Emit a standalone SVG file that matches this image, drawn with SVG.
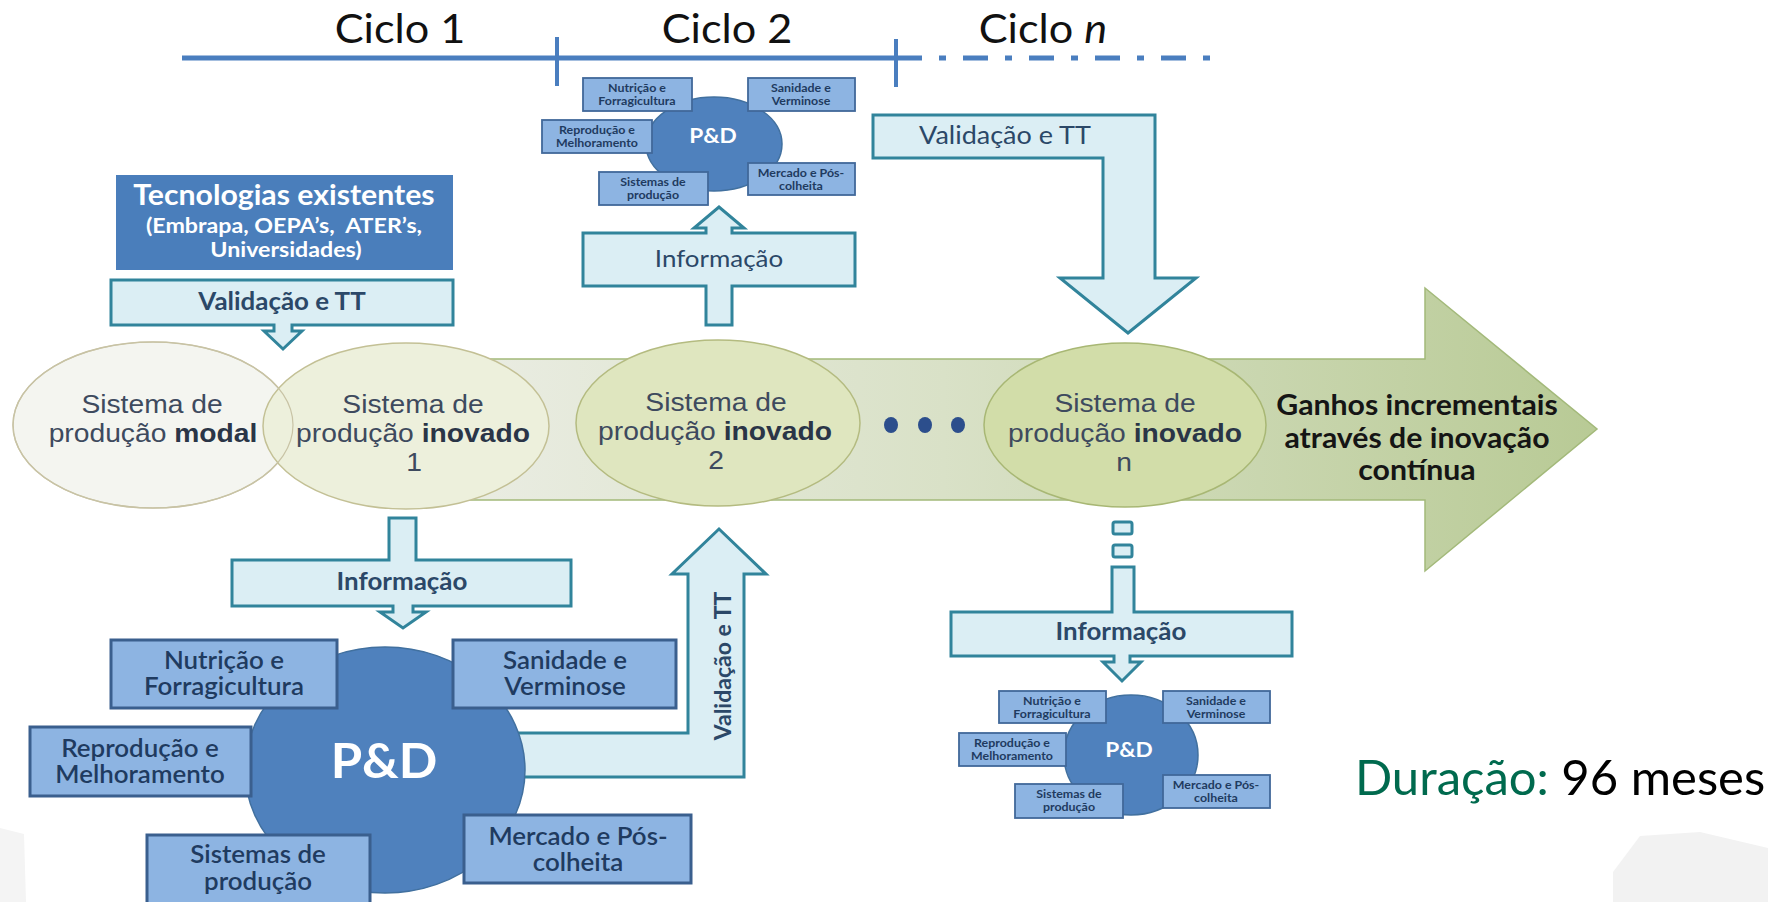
<svg xmlns="http://www.w3.org/2000/svg" width="1768" height="902" viewBox="0 0 1768 902">
<defs>
<style>
.cal{font-family:Lato,Carlito,"Liberation Sans",sans-serif}
.ari{font-family:"Liberation Sans",Arial,sans-serif}
.sx{transform-box:fill-box;transform-origin:center;transform:scaleX(1.08)}
.sa{transform-box:fill-box;transform-origin:center;transform:scaleX(1.13)}
.callout{fill:#dbeef4;stroke:#31849b;stroke-width:3}
.ctext{fill:#2b4868;text-anchor:middle}
.box{fill:#8db4e2;stroke:#3a5f8e;stroke-width:3}
.sbox{fill:#8db4e2;stroke:#41689a;stroke-width:1.8}
.btext{fill:#1f3b60;text-anchor:middle;font-size:24px;font-weight:600}
.stext{fill:#1f3b60;text-anchor:middle;font-size:11.5px;font-weight:bold}
.pd{fill:#4f81bd;stroke:#41709f;stroke-width:1.5}
.pdt{fill:#ffffff;text-anchor:middle;font-weight:bold}
.etext{fill:#3e4a5e;text-anchor:middle;font-size:25px}
.tl{stroke:#4a7ebf;fill:none}
</style>
<linearGradient id="gArrow" gradientUnits="userSpaceOnUse" x1="406" y1="0" x2="1600" y2="0">
<stop offset="0" stop-color="#eceee6"/>
<stop offset="0.45" stop-color="#d9e1c7"/>
<stop offset="1" stop-color="#b8ca95"/>
</linearGradient>
</defs>
<rect x="0" y="0" width="1768" height="902" fill="#ffffff"/>
<path d="M1613,872 L1640,836 L1700,832 L1768,848 L1768,902 L1613,902 Z" fill="#f2f2f2"/>
<path d="M0,828 L24,834 L26,902 L0,902 Z" fill="#f4f4f4"/>

<g id="timeline">
<line class="tl" x1="182" y1="58" x2="897" y2="58" stroke-width="5"/>
<line class="tl" x1="557" y1="37" x2="557" y2="86" stroke-width="4"/>
<line class="tl" x1="896" y1="39" x2="896" y2="87" stroke-width="4"/>
<line class="tl" x1="897" y1="58" x2="1212" y2="58" stroke-width="5" stroke-dasharray="25 17 7 17"/>
<text class="cal sx" x="400" y="43" font-size="40" text-anchor="middle" fill="#111">Ciclo 1</text>
<text class="cal sx" x="727" y="43" font-size="40" text-anchor="middle" fill="#111">Ciclo 2</text>
<text class="cal sx" x="1043" y="43" font-size="40" text-anchor="middle" fill="#111">Ciclo <tspan font-style="italic">n</tspan></text>
</g>

<g id="main-arrow">
<path d="M406,359 H1425 V288 L1597,429 L1425,571 V500 H406 Z" fill="url(#gArrow)" stroke="#a3b97a" stroke-width="1.5"/>
<text class="cal sx" x="1417" y="415" font-size="28" font-weight="bold" text-anchor="middle" fill="#151515">Ganhos incrementais</text>
<text class="cal sx" x="1417" y="448" font-size="28" font-weight="bold" text-anchor="middle" fill="#151515">através de inovação</text>
<text class="cal sx" x="1417" y="480" font-size="28" font-weight="bold" text-anchor="middle" fill="#151515">contínua</text>
</g>

<g id="tecnologias">
<rect x="116" y="175" width="337" height="95" fill="#4a7ebb"/>
<text class="cal sx" x="284" y="205" font-size="28" font-weight="bold" text-anchor="middle" fill="#ffffff">Tecnologias existentes</text>
<text class="cal sx" x="284" y="233" font-size="21.5" font-weight="bold" text-anchor="middle" fill="#ffffff" xml:space="preserve">(Embrapa, OEPA&#8217;s,  ATER&#8217;s,</text>
<text class="cal sx" x="286" y="257" font-size="21.5" font-weight="bold" text-anchor="middle" fill="#ffffff">Universidades)</text>
</g>

<g id="sistema-modal">
<ellipse cx="153" cy="425" rx="140" ry="83" fill="#f4f5f0" stroke="#c8c3a5" stroke-width="1.5"/>
</g>
<g id="sistema-inovado-1">
<ellipse cx="406" cy="426" rx="143" ry="83" fill="#edf0dc" stroke="#c3c095" stroke-width="1.5"/>
<ellipse cx="153" cy="425" rx="140" ry="83" fill="none" stroke="#c8c3a5" stroke-width="1.2"/>
<text class="ari sa etext" x="413" y="413">Sistema de</text>
<text class="ari sa etext" x="413" y="442">produção <tspan font-weight="bold" fill="#2a3547">inovado</tspan></text>
<text class="ari sa etext" x="414" y="471">1</text>
</g>
<g id="sistema-modal-text">
<text class="ari sa etext" x="152" y="413">Sistema de</text>
<text class="ari sa etext" x="153" y="442">produção <tspan font-weight="bold" fill="#2a3547">modal</tspan></text>
</g>
<g id="sistema-inovado-2">
<ellipse cx="718" cy="423" rx="142" ry="83" fill="#dfe6bf" stroke="#b4bb80" stroke-width="1.5"/>
<text class="ari sa etext" x="716" y="411">Sistema de</text>
<text class="ari sa etext" x="715" y="440">produção <tspan font-weight="bold" fill="#2a3547">inovado</tspan></text>
<text class="ari sa etext" x="716" y="469">2</text>
</g>
<g id="reticencias">
<ellipse cx="891" cy="425" rx="7" ry="8" fill="#2c4e8c"/>
<ellipse cx="925" cy="425" rx="7" ry="8" fill="#2c4e8c"/>
<ellipse cx="958" cy="425" rx="7" ry="8" fill="#2c4e8c"/>
</g>
<g id="sistema-inovado-n">
<ellipse cx="1125" cy="425" rx="141" ry="82" fill="#d2dda9" stroke="#a8b774" stroke-width="1.5"/>
<text class="ari sa etext" x="1125" y="412">Sistema de</text>
<text class="ari sa etext" x="1125" y="442">produção <tspan font-weight="bold" fill="#2a3547">inovado</tspan></text>
<text class="ari sa etext" x="1124" y="471">n</text>
</g>

<g id="connectors">
<g id="validacao-1">
<path class="callout" d="M111,280 H453 V325 H292 V331 H302 L283,349 L264,331 H274 V325 H111 Z"/>
<text class="cal sx ctext" x="282" y="310" font-size="24" font-weight="bold">Validação e TT</text>
</g>
<g id="informacao-1">
<path class="callout" d="M389,518 H416 V560 H571 V606 H413 V612 H426 L403,628 L380,612 H393 V606 H232 V560 H389 Z"/>
<text class="cal sx ctext" x="402" y="590" font-size="24" font-weight="bold">Informação</text>
</g>
<g id="validacao-2">
<path class="callout" d="M500,733 H688 V574 H672 L719,529 L766,574 H744 V777 H500 Z"/>
<text class="cal ctext" transform="translate(731,666) rotate(-90)" font-size="23" font-weight="bold">Validação e TT</text>
</g>
<g id="informacao-2">
<path class="callout" d="M706,325 V286 H583 V233 H706 V228 H694 L719,207 L744,228 H732 V233 H855 V286 H732 V325 Z"/>
<text class="cal sx ctext" x="719" y="267" font-size="24">Informação</text>
</g>
<g id="validacao-n">
<path class="callout" d="M873,115 H1155 V278 H1196 L1128,333 L1060,278 H1103 V158 H873 Z"/>
<text class="cal sx ctext" x="1005" y="144" font-size="25">Validação e TT</text>
</g>
<g id="informacao-n">
<rect class="callout" x="1113" y="522" width="19" height="12" rx="2"/>
<rect class="callout" x="1113" y="545" width="19" height="12" rx="2"/>
<path class="callout" d="M1112,567 H1134 V612 H1292 V656 H1130 V662 H1141 L1122,681 L1103,662 H1114 V656 H951 V612 H1112 Z"/>
<text class="cal sx ctext" x="1121" y="640" font-size="24" font-weight="bold">Informação</text>
</g>
</g>

<g id="pd-ciclo1">
<ellipse class="pd" cx="385" cy="770" rx="140" ry="123"/>
<text class="cal sx pdt" x="384" y="778" font-size="47">P&amp;D</text>
<rect class="box" x="111" y="640" width="226" height="68"/>
<text class="cal sx btext" x="224" y="669">Nutrição e</text>
<text class="cal sx btext" x="224" y="695">Forragicultura</text>
<rect class="box" x="453" y="640" width="223" height="68"/>
<text class="cal sx btext" x="565" y="669">Sanidade e</text>
<text class="cal sx btext" x="565" y="695">Verminose</text>
<rect class="box" x="30" y="727" width="221" height="69"/>
<text class="cal sx btext" x="140" y="757">Reprodução e</text>
<text class="cal sx btext" x="140" y="783">Melhoramento</text>
<rect class="box" x="147" y="835" width="223" height="72"/>
<text class="cal sx btext" x="258" y="863">Sistemas de</text>
<text class="cal sx btext" x="258" y="890">produção</text>
<rect class="box" x="464" y="815" width="227" height="68"/>
<text class="cal sx btext" x="578" y="845">Mercado e Pós-</text>
<text class="cal sx btext" x="578" y="871">colheita</text>
</g>

<g id="pd-ciclo2">
<ellipse class="pd" cx="714" cy="144" rx="68" ry="47"/>
<text class="cal sx pdt" x="713" y="143" font-size="21">P&amp;D</text>
<rect class="sbox" x="583" y="78" width="109" height="33"/>
<text class="cal sx stext" x="637" y="92">Nutrição e</text>
<text class="cal sx stext" x="637" y="105">Forragicultura</text>
<rect class="sbox" x="748" y="78" width="107" height="33"/>
<text class="cal sx stext" x="801" y="92">Sanidade e</text>
<text class="cal sx stext" x="801" y="105">Verminose</text>
<rect class="sbox" x="542" y="120" width="110" height="33"/>
<text class="cal sx stext" x="597" y="134">Reprodução e</text>
<text class="cal sx stext" x="597" y="147">Melhoramento</text>
<rect class="sbox" x="599" y="172" width="109" height="33"/>
<text class="cal sx stext" x="653" y="186">Sistemas de</text>
<text class="cal sx stext" x="653" y="199">produção</text>
<rect class="sbox" x="748" y="163" width="107" height="32"/>
<text class="cal sx stext" x="801" y="177">Mercado e Pós-</text>
<text class="cal sx stext" x="801" y="190">colheita</text>
</g>

<g id="pd-ciclon">
<ellipse class="pd" cx="1131" cy="755" rx="67" ry="60"/>
<text class="cal sx pdt" x="1129" y="757" font-size="21">P&amp;D</text>
<rect class="sbox" x="999" y="691" width="107" height="32"/>
<text class="cal sx stext" x="1052" y="705">Nutrição e</text>
<text class="cal sx stext" x="1052" y="718">Forragicultura</text>
<rect class="sbox" x="1163" y="691" width="107" height="32"/>
<text class="cal sx stext" x="1216" y="705">Sanidade e</text>
<text class="cal sx stext" x="1216" y="718">Verminose</text>
<rect class="sbox" x="959" y="733" width="107" height="33"/>
<text class="cal sx stext" x="1012" y="747">Reprodução e</text>
<text class="cal sx stext" x="1012" y="760">Melhoramento</text>
<rect class="sbox" x="1015" y="784" width="108" height="34"/>
<text class="cal sx stext" x="1069" y="798">Sistemas de</text>
<text class="cal sx stext" x="1069" y="811">produção</text>
<rect class="sbox" x="1163" y="775" width="107" height="33"/>
<text class="cal sx stext" x="1216" y="789">Mercado e Pós-</text>
<text class="cal sx stext" x="1216" y="802">colheita</text>
</g>

<g id="duracao">
<text class="cal" x="1355" y="795" font-size="49" fill="#006a4e">Duração: <tspan fill="#000000">96 meses</tspan></text>
</g>
</svg>
